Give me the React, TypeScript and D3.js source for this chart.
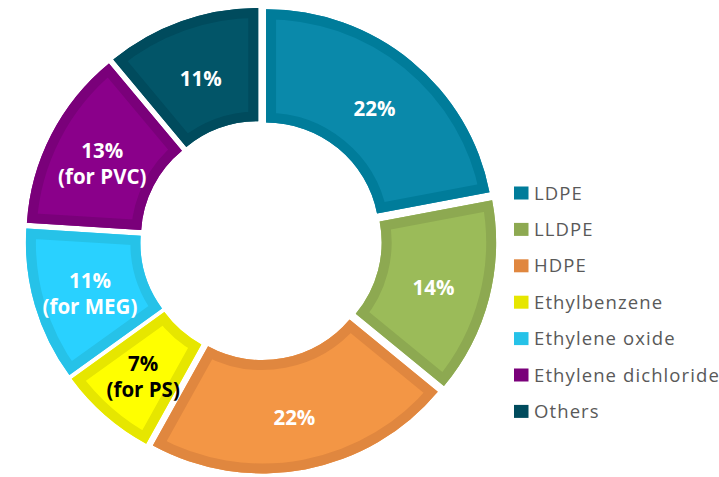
import React from "react";
import * as d3 from "d3";

const categories = ["LDPE", "LLDPE", "HDPE", "Ethylbenzene", "Ethylene oxide", "Ethylene dichloride", "Others"];
const values = [22, 14, 22, 7, 11, 13, 11];
const labelLines = [["22%"], ["14%"], ["22%"], ["7%", "(for PS)"], ["11%", "(for MEG)"], ["13%", "(for PVC)"], ["11%"]];
const fillColors = ["#0A89AA", "#9BBB59", "#F39645", "#FFFF00", "#29D1FF", "#8A008A", "#025568"];
const borderColors = ["#007C9A", "#8DA951", "#E0873F", "#E6E600", "#26C2E8", "#7A007A", "#004B5D"];
const labelColors = ["#fff", "#fff", "#fff", "#000", "#fff", "#fff", "#fff"];

const W = 719, H = 477;
const cx = 261, cy = 240.5;
const R = 227.5, r = 113;
const explode = 7.9;
const yScale = 0.99;

export default function App() {
  const pie = d3.pie<number>().sort(null).value((v) => v).startAngle(0).endAngle(2 * Math.PI);
  const arcs = pie(values);
  const arcGen = d3.arc<d3.PieArcDatum<number>>().innerRadius(r).outerRadius(R);
  const mid = (a: d3.PieArcDatum<number>) => (a.startAngle + a.endAngle) / 2;
  const legendY = d3.scalePoint<string>().domain(categories).range([199.5, 199.5 + 36.4 * 6]);

  return (
    <svg width={W} height={H} style={{ position: "absolute", left: 0, top: 0, background: "#fff" }}>
      <defs>
        {arcs.map((a, i) => (
          <clipPath id={`clip${i}`} key={i}>
            <path d={arcGen(a) || ""} />
          </clipPath>
        ))}
      </defs>
      <g transform={`translate(${cx},${cy}) scale(1,${yScale})`}>
        {arcs.map((a, i) => {
          const m = mid(a);
          const dx = explode * Math.sin(m);
          const dy = -explode * Math.cos(m);
          return (
            <g key={i} transform={`translate(${dx},${dy})`}>
              <path d={arcGen(a) || ""} fill={fillColors[i]} />
              <path d={arcGen(a) || ""} fill="none" stroke={borderColors[i]} strokeWidth={20} clipPath={`url(#clip${i})`} />
            </g>
          );
        })}
      </g>
      {arcs.map((a, i) => {
        const m = mid(a);
        const rr = (R + r) / 2 + explode;
        const x = cx + rr * Math.sin(m);
        const y = cy - rr * Math.cos(m) * yScale + 3;
        const lines = labelLines[i];
        const lh = 26;
        const y0 = y - ((lines.length - 1) * lh) / 2;
        return (
          <text key={i} x={x} y={y0} textAnchor="middle" dominantBaseline="central"
            fontFamily="'Open Sans', sans-serif" fontWeight="bold" fontSize={20.5} fill={labelColors[i]}>
            {lines.map((t, j) => (
              <tspan key={j} x={x} y={y0 + j * lh}>{t}</tspan>
            ))}
          </text>
        );
      })}
      <g>
        {categories.map((c, i) => {
          const y = legendY(c) || 0;
          return (
            <g key={c}>
              <rect x={514} y={y - 13} width={14.5} height={13} fill={borderColors[i]} />
              <text x={534} y={y} fontFamily="'Open Sans', sans-serif" fontSize={18.5} letterSpacing={1.1} fill="#595959">{c}</text>
            </g>
          );
        })}
      </g>
    </svg>
  );
}
